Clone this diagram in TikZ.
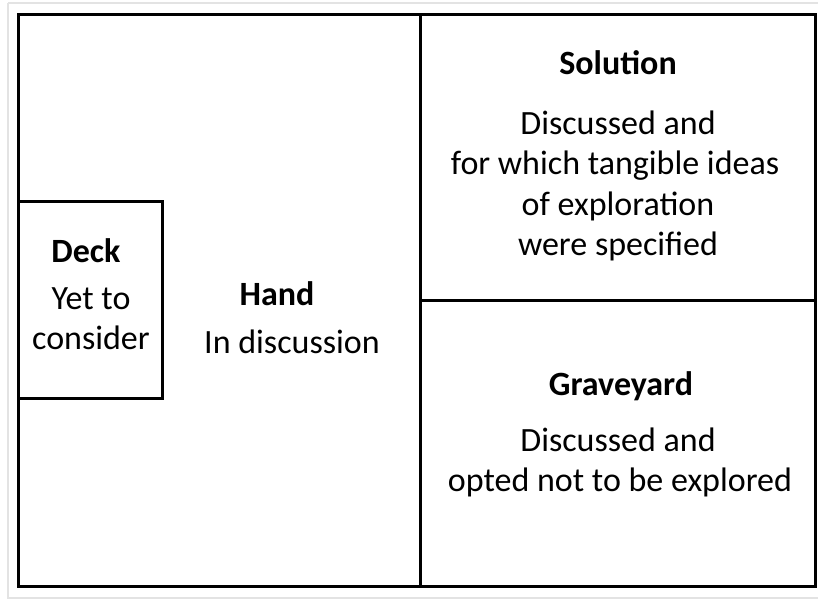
\documentclass[tikz,border=0pt]{standalone}
\usepackage{fontspec}
\setmainfont{Carlito}
\definecolor{framegrey}{HTML}{E3E3E3}
\tikzset{
  zone/.style={draw=black, line width=3pt},
  heading/.style={font=\fontsize{34}{40}\selectfont\bfseries, anchor=base, inner sep=0pt},
  bodyline/.style={font=\fontsize{34}{40}\selectfont, anchor=base, inner sep=0pt}
}
\begin{document}
\begin{tikzpicture}[x=1pt, y=-1pt]
  \useasboundingbox (0,0) rectangle (818,600);
  % faint page frame
  \draw[framegrey, line width=1.5pt] (8,3) -- (830,3) (8,3) -- (8,598) -- (830,598);
  % board outline and its regions
  \draw[zone] (18,14) rectangle (815,586);
  \draw[zone] (420,14) -- (420,586);
  \draw[zone] (420,300) -- (815,300);
  \draw[zone] (18,201) rectangle (162,398);

  % Deck
  \node[heading]  (deck)  at (86,262) {Deck};
  \node[bodyline] (deck1) at (91,309) {Yet to};
  \node[bodyline] (deck2) at (91,349) {consider};

  % Hand
  \node[heading]  (hand)  at (277,305) {Hand};
  \node[bodyline] (hand1) at (292,353) {In discussion};

  % Solution
  \node[heading]  (sol)  at (618,74) {Solution};
  \node[bodyline] (sol1) at (618,134) {Discussed and};
  \node[bodyline] (sol2) at (615,174) {for which tangible ideas};
  \node[bodyline] (sol3) at (618,215) {of exploration};
  \node[bodyline] (sol4) at (618,255) {were specified};

  % Graveyard
  \node[heading]  (grave)  at (621,395) {Graveyard};
  \node[bodyline] (grave1) at (618,451) {Discussed and};
  \node[bodyline] (grave2) at (620,491) {opted not to be explored};
\end{tikzpicture}
\end{document}
